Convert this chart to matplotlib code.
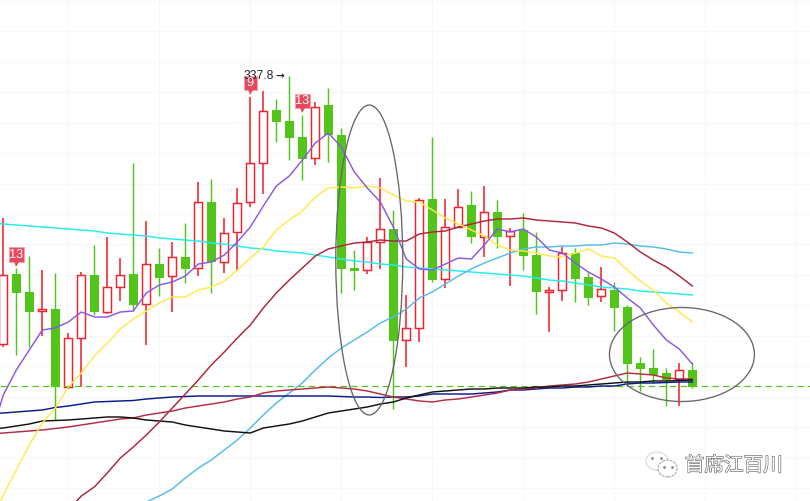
import matplotlib
matplotlib.use('Agg')
import matplotlib.pyplot as plt
import matplotlib.patheffects as pe
from matplotlib.patches import Ellipse, Rectangle
import numpy as np

colors = {
    'up': '#f5222d',
    'down': '#52c41a',
    'ma5': '#8a5ae0',
    'ma10': '#ffe94d',
    'ma20': '#b0243c',
    'ma30': '#52bdec',
    'ma60': '#22eeee',
    'ma120': '#0a1a8c',
    'ma250': '#b52b45',
    'ma500': '#111111',
    'ring': '#666666',
    'flag': '#e8475b'
}

highs = [267, 242, 248, 241, 239.5, 209.5, 240, 253.5, 257.5, 247, 294.5, 265.5, 252, 255,
         264.5, 285, 286.5, 267, 282, 327.5, 330.5, 326.5, 337.8, 318.5, 325, 332, 312, 251,
         257.5, 287, 271, 228.5, 277, 307.5, 276.5, 281.5, 280.5, 283, 276, 262, 269.5, 260,
         232.5, 252.5, 252, 240, 242.5, 235, 223.5, 197.5, 201.5, 192, 194.5, 195]
body_top = [238.5, 239, 230, 221.5, 221.5, 207, 238.5, 238.5, 232.5, 238.5, 239, 244, 244,
            247.5, 247.5, 275, 275, 259.5, 274.5, 294.5, 320.5, 321, 315.5, 307.5, 322.5,
            323.5, 308.5, 242, 255, 261.5, 261.5, 212, 276, 276.5, 262.5, 272.5, 273.5, 270,
            270, 260.5, 261, 248.5, 231, 249.5, 249.5, 237.5, 231.5, 231, 222.5, 194.5, 192,
            189.5, 191, 191]
body_bottom = [204, 229.5, 220, 220.5, 182.5, 182.5, 207, 220, 220, 232.5, 223.5, 224, 237,
               238, 241.5, 242, 245, 245, 260, 275, 294.5, 315, 307, 296.5, 297, 308.5, 241.5,
               240.5, 241, 255, 205.5, 206, 212, 236, 236.5, 262.5, 257.5, 257.5, 257.5, 258,
               248, 230, 230, 231, 236.5, 227, 228, 222, 194, 191.5, 188.5, 186, 186.5, 182.5]
lows = [202.5, 198.5, 202.5, 208, 166, 181.5, 182.5, 218.5, 219, 225.5, 220.5, 203.5, 228,
        220, 234.5, 238, 229.5, 239.5, 240.5, 272.5, 279, 305, 296, 286, 293.5, 295, 229.5,
        231, 239, 241.5, 171.5, 192.5, 205, 235, 232, 262.5, 254.5, 247.5, 252, 233, 241, 219,
        210, 225.5, 225, 223.5, 225, 210.5, 183.5, 180.5, 184.5, 173, 173, 182]
# candles that closed higher (hollow red)
up_days = [0, 3, 5, 6, 8, 9, 11, 13, 15, 17, 18, 19, 20, 24, 28, 29, 31, 32, 34, 35, 37, 39,
           42, 43, 46, 52]

ma5 = [157, 178.5, 191, 201, 211, 212, 215, 220, 217.5, 217.5, 220, 220.5, 229.5, 233.5, 235,
       238, 244, 245, 248.5, 255, 262.5, 273, 283, 288, 296, 304.5, 309.5, 302.5, 290, 282, 275,
       262.5, 246.5, 241.5, 241, 244, 247, 246.5, 253.5, 261.5, 260, 261.5, 257.5, 251, 249.5,
       244.5, 240, 236.5, 232.5, 227, 222, 213.5, 206, 201.5, 194]
ma10 = [113.5, 128.5, 141, 153.5, 164.5, 172, 182.5, 189.5, 198, 204.5, 211.5, 216.5, 220.5,
        224.5, 227.5, 227.5, 231, 232.5, 235.5, 241, 247, 252.5, 261, 266, 270.5, 277.5, 282,
        282.5, 282, 283, 282, 278.5, 275.5, 275, 271, 267, 264, 261, 258, 253.5, 251, 250.5,
        249.5, 248, 247.5, 249.5, 251.5, 248, 247, 241, 235.5, 231, 224.5, 220, 215]
ma20 = [121, 128, 132.5, 139.5, 147, 152.5, 158.5, 165, 172, 179, 186, 193.5, 200, 207, 213.5,
        222, 229.5, 236, 242, 248, 251.5, 253, 254.5, 255, 256, 255.5, 255.5, 259, 260, 260.5,
        262.5, 264, 265.5, 266.5, 266.5, 267, 266, 265.5, 265, 264.5, 263, 262, 259.5, 255,
        250, 246, 242.5, 238, 233]
ma30 = [125, 128, 131.5, 137, 142, 146, 151, 156, 162, 168.5, 174.5, 179.5, 184.5, 191, 197,
        202, 206, 210, 214.5, 217.5, 221.5, 227, 230, 234, 238, 241.5, 244.5, 247, 249.5,
        251.5, 252.5, 252.5, 253, 253, 253.5, 253.5, 254.5, 254, 253, 252.5, 251.5, 250, 249.5]
ma60 = [264.5, 264, 263.5, 263, 262.5, 262, 261.5, 261, 260.5, 259.5, 259, 258.5, 258, 257,
        256.5, 256, 255.5, 254.5, 254, 253, 252, 251.5, 250.5, 250, 249.5, 248.5, 247.5, 246.5,
        245.5, 245, 244, 243.5, 242.5, 242, 241.5, 241, 240.5, 240, 239.5, 239, 238.5, 238, 237,
        236, 235.5, 234.5, 233.5, 232.5, 232, 231.5, 230.5, 230, 229.5, 229, 228.5]
ma120 = [169.25, 169.5, 170, 170.5, 171, 172.25, 173, 174, 175, 175.25, 175.5, 175.75, 176.5,
         177, 177.5, 177.75, 178, 178, 178, 178, 178, 178, 178, 178, 178, 178, 178, 177.75,
         177.5, 177.5, 177.25, 177.5, 177.5, 178, 179, 179, 179, 179, 179.5, 180, 181, 181,
         181.5, 182, 182, 182.5, 182.5, 183, 183, 184, 184.5, 184.5, 184.75, 185, 185]
ma250 = [159, 159.5, 160, 160.5, 161, 161.75, 162.5, 163.5, 164.5, 165.5, 166.5, 167, 168.5,
         169.5, 170.5, 172, 173, 174, 175, 176.5, 177.5, 179.5, 180.5, 181, 181.5, 182, 182.5,
         182, 181.5, 180.5, 179, 177.5, 176.5, 175.5, 175, 176, 176.5, 177.5, 178.5, 179.5,
         181, 181.5, 182, 183, 183.5, 184, 185, 186.5, 188, 189.5, 189, 188.5, 187, 186.5, 186.5]
ma500 = [161.5, 162, 163, 164, 165.5, 165.75, 166, 166.5, 167, 167.5, 167.5, 167, 166, 165.5,
         165, 163.5, 162.5, 161.5, 160.5, 160, 159.5, 162, 163, 164, 165.5, 167.5, 169.5, 170.5,
         171.5, 172.5, 174, 175, 177, 178.5, 180, 180.5, 181, 181.5, 181.5, 182, 182, 182, 182.5,
         182.5, 183, 183, 183.5, 184, 184.5, 185, 185, 185.5, 185.5, 185.75, 186]
last_price = 183
peak_price = 337.8

fig = plt.figure(figsize=(8.1, 5.01), dpi=100)
ax = fig.add_axes([0, 0, 1, 1])
ax.set_xlim(-0.254, 62.05)
ax.set_ylim(125.5, 376)
for s in ax.spines.values():
    s.set_visible(False)
ax.set_xticks(np.arange(5, 62, 7))
ax.set_yticks(np.arange(132, 376, 15.22))
ax.tick_params(length=0, labelbottom=False, labelleft=False)
ax.grid(True, color='#f7f7f7', linewidth=0.8)
ax.set_axisbelow(True)

n = len(highs)
ind = np.arange(n)
is_up = np.isin(ind, up_days)
tops = np.array(body_top)
bots = np.array(body_bottom)

# wicks first so the hollow bodies sit on them
ax.vlines(ind[~is_up], np.array(lows)[~is_up], np.array(highs)[~is_up], color=colors['down'], linewidth=1.05, zorder=2)
ax.vlines(ind[is_up], np.array(lows)[is_up], np.array(highs)[is_up], color=colors['up'], linewidth=1.15, zorder=2)
ax.bar(ind[~is_up], (tops - bots)[~is_up], 0.69, bottom=bots[~is_up], color=colors['down'], linewidth=0, zorder=2.1)
ax.bar(ind[is_up], (tops - bots)[is_up], 0.62, bottom=bots[is_up], facecolor='white',
       edgecolor=colors['up'], linewidth=1.05, zorder=2.1)

ax.axhline(last_price, color=colors['down'], linewidth=0.85, dashes=(5.5, 3.5), zorder=3)

# ma lines that start later than the first candle end on the last one
for vals, key in [(ma60, 'ma60'), (ma30, 'ma30'), (ma120, 'ma120'), (ma250, 'ma250'),
                  (ma500, 'ma500'), (ma20, 'ma20'), (ma10, 'ma10'), (ma5, 'ma5')]:
    xs = np.arange(n - len(vals), n)
    ax.plot(xs, vals, color=colors[key], linewidth=1.05, zorder=3.2, solid_joinstyle='round')

ax.add_patch(Ellipse((28.15, 246), 5.15, 155, fill=False, edgecolor=colors['ring'], linewidth=0.95, zorder=4))
ax.add_patch(Ellipse((52.2, 198.75), 11.15, 47, fill=False, edgecolor=colors['ring'], linewidth=0.95, zorder=4))


def flag(i, price, label, w):
    ax.add_patch(Rectangle((i - w / 2, price - 3.6), w, 7.2, facecolor=colors['flag'],
                           edgecolor='#f2a3ac', linewidth=0.8, zorder=5))
    ax.text(i, price - 0.2, label, color='white', fontsize=9.2, ha='center', va='center', zorder=8,
            family=['Liberation Sans', 'DejaVu Sans'])
    ax.plot([i], [price - 4.6], marker='v', markersize=3.6, color=colors['flag'], markeredgewidth=0, zorder=5.5)


flag(1, 248.75, '13', 1.12)
flag(19, 334.5, '9', 1.0)
flag(23, 325.5, '13', 1.12)

ax.text(18.5, peak_price, '%.1f' % peak_price, color='#1b2733', fontsize=8.7, ha='left', va='center',
        zorder=7, family=['Liberation Sans', 'DejaVu Sans'])
ax.text(20.95, peak_price, '\u2192', color='#1b2733', fontsize=7.5, ha='left', va='center', zorder=7,
        family='DejaVu Sans', fontweight='bold')

# watermark
ax.text(52.42, 143.2, '\u9996\u5e2d\u6c5f\u767e\u5ddd', fontsize=14.1, color='white', ha='left', va='center', zorder=7,
        family=['Noto Sans CJK SC', 'DejaVu Sans'],
        path_effects=[pe.Stroke(linewidth=0.8, foreground='#555555'), pe.Normal()])
ax.add_patch(Ellipse((50.28, 145.5), 1.7, 9, facecolor='white', edgecolor='#bbbbbb', linewidth=0.7, linestyle=(0, (2, 1)), zorder=7))
ax.add_patch(Ellipse((51.1, 141.75), 1.46, 8.5, facecolor='white', edgecolor='#999999', linewidth=0.7, linestyle=(0, (3, 1)), zorder=7.1))
ax.plot([49.9, 50.6, 50.8, 51.4], [147, 147, 142.7, 142.7], linestyle='none', marker='o', markersize=1.0, color='#888888', zorder=7.2)

fig.savefig('out.png', dpi=100)
